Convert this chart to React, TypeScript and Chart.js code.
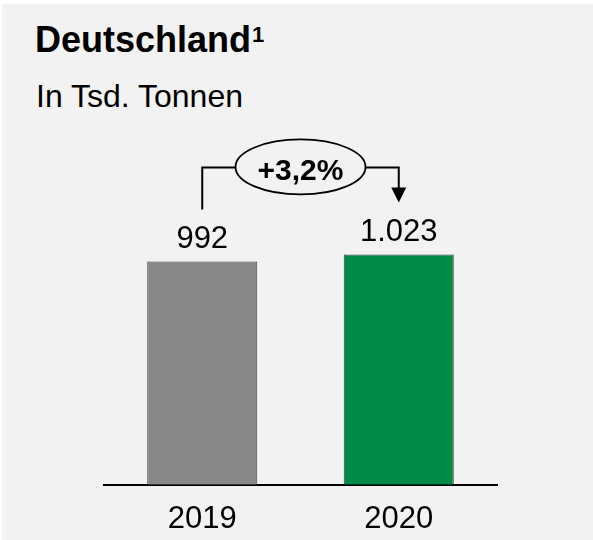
import React, { useEffect, useRef } from "react";
import { Chart, registerables } from "chart.js";

Chart.register(...registerables);

const categories = ["2019", "2020"];
const values = [992, 1023];
const barColors = ["#878787", "#008a47"];
const titleText = "Deutschland";
const titleNote = "1";
const subtitleText = "In Tsd. Tonnen";
const changeLabel = "+3,2%";
const yMax = 1500;

const FONT = '"Liberation Sans", Arial, sans-serif';
const PANEL = "#f2f2f2";

function fmt(v: number): string {
  return String(v).replace(/\B(?=(\d{3})+(?!\d))/g, ".");
}

const annotationPlugin = {
  id: "annot",
  afterDatasetsDraw(chart: any) {
    const ctx = chart.ctx as CanvasRenderingContext2D;
    const meta = chart.getDatasetMeta(0);
    const b0 = meta.data[0] as any;
    const b1 = meta.data[1] as any;
    ctx.save();
    // value labels
    ctx.fillStyle = "#000";
    ctx.font = `31px ${FONT}`;
    ctx.textAlign = "center";
    ctx.textBaseline = "alphabetic";
    meta.data.forEach((bar: any, i: number) => {
      ctx.fillText(fmt(values[i]), bar.x, bar.y - 13);
    });
    // bracket
    const topY = Math.min(b0.y, b1.y) - 87;
    const cx = (b0.x + b1.x) / 2;
    const rx = 65;
    const ry = 27.5;
    ctx.strokeStyle = "#000";
    ctx.lineWidth = 2;
    ctx.beginPath();
    ctx.moveTo(b0.x, b0.y - 52);
    ctx.lineTo(b0.x, topY);
    ctx.lineTo(cx - rx, topY);
    ctx.moveTo(cx + rx, topY);
    ctx.lineTo(b1.x, topY);
    ctx.lineTo(b1.x, b1.y - 66);
    ctx.stroke();
    // arrow head
    ctx.beginPath();
    ctx.moveTo(b1.x - 7.5, b1.y - 67);
    ctx.lineTo(b1.x + 7.5, b1.y - 67);
    ctx.lineTo(b1.x, b1.y - 52);
    ctx.closePath();
    ctx.fill();
    // ellipse
    ctx.beginPath();
    ctx.ellipse(cx, topY - 0.5, rx, ry, 0, 0, Math.PI * 2);
    ctx.fillStyle = PANEL;
    ctx.fill();
    ctx.lineWidth = 1.8;
    ctx.stroke();
    ctx.fillStyle = "#000";
    ctx.font = `bold 30px ${FONT}`;
    ctx.fillText(changeLabel, cx, topY + 13);
    ctx.restore();
  },
};

export default function App() {
  const canvasRef = useRef<HTMLCanvasElement | null>(null);

  useEffect(() => {
    if (!canvasRef.current) return;
    const chart = new Chart(canvasRef.current, {
      type: "bar",
      data: {
        labels: categories,
        datasets: [
          {
            data: values,
            backgroundColor: barColors,
            borderColor: "rgba(0,0,0,0.75)",
            borderWidth: 1,
            barPercentage: 0.56,
            categoryPercentage: 1,
          },
        ],
      },
      options: {
        responsive: false,
        animation: false,
        layout: { padding: { left: 104, right: 96, top: 147, bottom: 3 } },
        plugins: {
          legend: { display: false },
          tooltip: { enabled: false },
          title: { display: false },
        },
        scales: {
          x: {
            grid: { display: false, drawTicks: false },
            border: { display: true, color: "#000", width: 2 },
            ticks: { color: "#000", font: { size: 31, family: FONT }, padding: 16 },
          },
          y: { display: false, min: 0, max: yMax },
        },
      },
      plugins: [annotationPlugin],
    } as any);
    return () => chart.destroy();
  }, []);

  return (
    <div
      style={{
        position: "fixed",
        left: 0,
        top: 0,
        width: 593,
        height: 540,
        background: "#fff",
        overflow: "hidden",
      }}
    >
      <div
        style={{
          position: "absolute",
          left: 2,
          top: 4,
          right: 0,
          bottom: 0,
          background: PANEL,
        }}
      />
      <div
        style={{
          position: "absolute",
          left: 35,
          top: 21.5,
          font: `bold 36px ${FONT}`,
          lineHeight: "36px",
          color: "#000",
          whiteSpace: "nowrap",
        }}
      >
        {titleText}
        <span
          style={{
            fontSize: 22,
            position: "relative",
            top: -10,
            marginLeft: 1,
          }}
        >
          {titleNote}
        </span>
      </div>
      <div
        style={{
          position: "absolute",
          left: 36,
          top: 80,
          font: `32px ${FONT}`,
          lineHeight: "32px",
          color: "#000",
          whiteSpace: "nowrap",
        }}
      >
        {subtitleText}
      </div>
      <canvas
        ref={canvasRef}
        width={593}
        height={557}
        style={{ position: "absolute", left: 0, top: 0, display: "block" }}
      />
    </div>
  );
}
